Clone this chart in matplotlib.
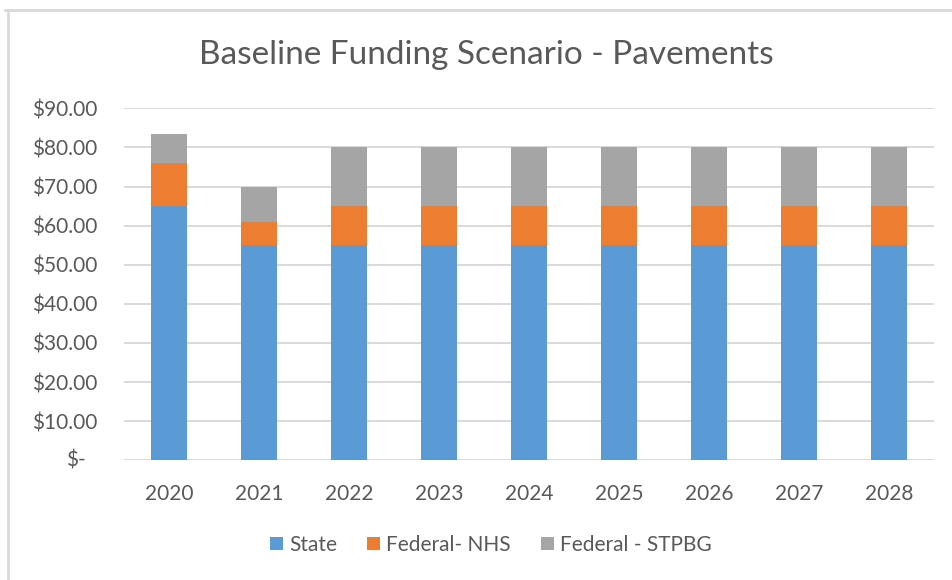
import matplotlib.pyplot as plt
from matplotlib.patches import Patch
from matplotlib.lines import Line2D

# Chart data (millions of dollars)
years = ['2020', '2021', '2022', '2023', '2024', '2025', '2026', '2027', '2028']
state = [65, 55, 55, 55, 55, 55, 55, 55, 55]
federal_nhs = [11, 6, 10, 10, 10, 10, 10, 10, 10]
federal_stpbg = [7.5, 9, 15, 15, 15, 15, 15, 15, 15]
series_names = ['State', 'Federal- NHS', 'Federal - STPBG']
y_ticks = [0, 10, 20, 30, 40, 50, 60, 70, 80, 90]

colors = ['#5B9BD5', '#ED7D31', '#A5A5A5']
text_color = '#595959'

plt.rcParams['font.family'] = ['Lato', 'DejaVu Sans']

fig = plt.figure(figsize=(9.52, 5.8), dpi=100)
ax_w = 934 - 124
ax = fig.add_axes([124 / 952, 1 - 460.3 / 580, ax_w / 952, (460.3 - 108.3) / 580])

x = list(range(len(years)))
bottom = [0] * len(years)
for vals, color, name in zip([state, federal_nhs, federal_stpbg], colors, series_names):
    ax.bar(x, vals, bottom=bottom, width=0.41, color=color, label=name, zorder=3)
    bottom = [b + v for b, v in zip(bottom, vals)]

ax.set_xlim(-0.5, len(years) - 0.5)
ax.set_ylim(0, 90)
ax.set_yticks(y_ticks)
# zero label is drawn separately (accounting style "$-" sits further left)
ax.set_yticklabels(['' if t == 0 else f'${t:.2f}' for t in y_ticks])
ax.set_xticks(x)
ax.set_xticklabels(years)
ax.yaxis.grid(True, color='#D9D9D9', linewidth=1.4, zorder=0)
ax.set_axisbelow(True)
for s in ax.spines.values():
    s.set_visible(False)
ax.tick_params(length=0, labelsize=15, colors=text_color)
ax.tick_params(axis='y', pad=19.5)
ax.tick_params(axis='x', pad=17)

ax.text((86 - 124) / ax_w, 0, '$-', transform=ax.get_yaxis_transform(),
        ha='right', va='center', fontsize=15, color=text_color)

fig.text(486 / 952, 1 - 55 / 580, 'Baseline Funding Scenario - Pavements',
         ha='center', va='center', fontsize=24, color=text_color)

handles = [Patch(facecolor=c, edgecolor='none') for c in colors]
fig.legend(handles, series_names, loc='center', bbox_to_anchor=(491 / 952, 1 - 545 / 580),
           ncol=3, frameon=False, fontsize=15, labelcolor=text_color,
           handlelength=0.6, handleheight=0.6, handletextpad=0.3, columnspacing=1.45)

# chart frame (top and left edges visible)
fig.add_artist(Line2D([5 / 952, 1], [1 - 10 / 580] * 2, color='#D9D9D9', linewidth=2))
fig.add_artist(Line2D([8 / 952] * 2, [0, 1 - 10 / 580], color='#D9D9D9', linewidth=2))

fig.savefig('out.png', dpi=100)
